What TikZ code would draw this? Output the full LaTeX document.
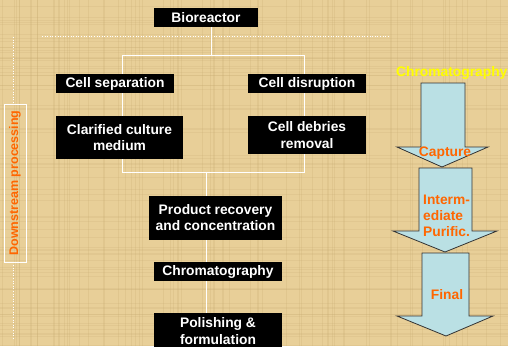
\documentclass[tikz,border=0pt]{standalone}
\usepackage{fontspec}
\setmainfont{Liberation Sans}
\usetikzlibrary{backgrounds}

\definecolor{papyrus}{RGB}{232,207,152}
\definecolor{fibre}{RGB}{196,168,110}
\definecolor{stageblue}{RGB}{186,224,228}
\definecolor{stageorange}{RGB}{255,102,0}
\definecolor{stageyellow}{RGB}{255,255,0}

\newcommand{\boxfont}{\bfseries\fontsize{13.8}{16.5}\selectfont}

\tikzset{
  stepbox/.style={fill=black, text=white, font=\boxfont, align=center, inner sep=0pt},
  stagearrow/.style={fill=stageblue, draw=black!80, line width=0.8pt, line join=miter},
  stagelabel/.style={text=stageorange, font=\boxfont, align=center, inner sep=0pt},
  flowline/.style={draw=white, line width=0.7pt},
  guideline/.style={draw=white, dotted, line width=0.6pt}
}

\begin{document}
\begin{tikzpicture}[x=1pt, y=-1pt]
    \useasboundingbox (0,0) rectangle (508,346);

    % process boxes
    \node[stepbox, minimum width=104pt, minimum height=19pt] (bio) at (206,17.5) {Bioreactor};
    \node[stepbox, minimum width=118pt, minimum height=19pt] (sep) at (115,83.5) {Cell separation};
    \node[stepbox, minimum width=118pt, minimum height=19pt] (dis) at (307,83.5) {Cell disruption};
    \node[stepbox, minimum width=127pt, minimum height=43pt] (clar) at (119.5,137.5) {Clarified culture\\medium};
    \node[stepbox, minimum width=118pt, minimum height=38pt] (deb) at (307,135) {Cell debries\\removal};
    \node[stepbox, minimum width=133pt, minimum height=44pt] (prod) at (215.5,217.5) {Product recovery\\and concentration};
    \node[stepbox, minimum width=128pt, minimum height=19pt] (chrom) at (218,271.5) {Chromatography};
    \node[stepbox, minimum width=128pt, minimum height=36pt] (pol) at (218,331) {Polishing \&\\formulation};

    % side label
    \node[draw=white, line width=0.6pt, rotate=90, minimum width=158pt, minimum height=22pt,
          inner sep=0pt, text=stageorange, font=\bfseries\fontsize{12.5}{14}\selectfont] (dsp) at (15,183) {Downstream processing};

    % chromatography stages
    \node[text=stageyellow, font=\boxfont, anchor=west, inner sep=0pt] (stages) at (396,73) {Chromatography};
    \draw[stagearrow] (421,83) -- (465,83) -- (465,147) -- (488,147) -- (442,167) -- (397,147) -- (421,147) -- cycle;
    \draw[stagearrow] (419,168) -- (472,168) -- (472,231) -- (497,231) -- (445,252) -- (393,231) -- (419,231) -- cycle;
    \draw[stagearrow] (422,253) -- (469,253) -- (469,316) -- (493,316) -- (446,336) -- (397,316) -- (422,316) -- cycle;
    \node[stagelabel] (cap) at (445,153) {Capture};
    \node[stagelabel, align=left, anchor=west, font=\bfseries\fontsize{13.8}{16}\selectfont] (ip) at (423,216) {Interm-\\ediate\\Purific.};
    \node[stagelabel] (fin) at (447,295) {Final};

    \begin{scope}[on background layer]
        \fill[papyrus] (0,0) rectangle (508,346);
        % papyrus fibres
        \pgfmathsetseed{7}
        \foreach \i in {1,...,70} {
            \pgfmathsetmacro{\fx}{508*rnd}
            \pgfmathsetmacro{\fy}{346*rnd}
            \draw[fibre, opacity=0.22, line width=0.8pt] (\fx,0) -- (\fx,346);
            \draw[fibre, opacity=0.18, line width=0.8pt] (0,\fy) -- (508,\fy);
        }

        % connectors behind the boxes
        \coordinate (jt) at (211,55);
        \coordinate (fl) at (122,55);
        \coordinate (fr) at (304,172);
        \coordinate (fb) at (206,172);
        \draw[flowline] (bio.south -| jt) -- (jt);
        \draw[flowline] (fl) rectangle (fr);
        \draw[flowline] (fb) -- (fb |- pol.north);

        % dotted guides
        \coordinate (gl) at (42,36);
        \coordinate (gr) at (389,36);
        \coordinate (gt) at (13,37);
        \coordinate (ge) at (13,340);
        \draw[guideline] (gl) -- (gr);
        \draw[guideline] (gt) -- (gt |- dsp.east);
        \draw[guideline] (gt |- dsp.west) -- (ge);
    \end{scope}
\end{tikzpicture}
\end{document}
